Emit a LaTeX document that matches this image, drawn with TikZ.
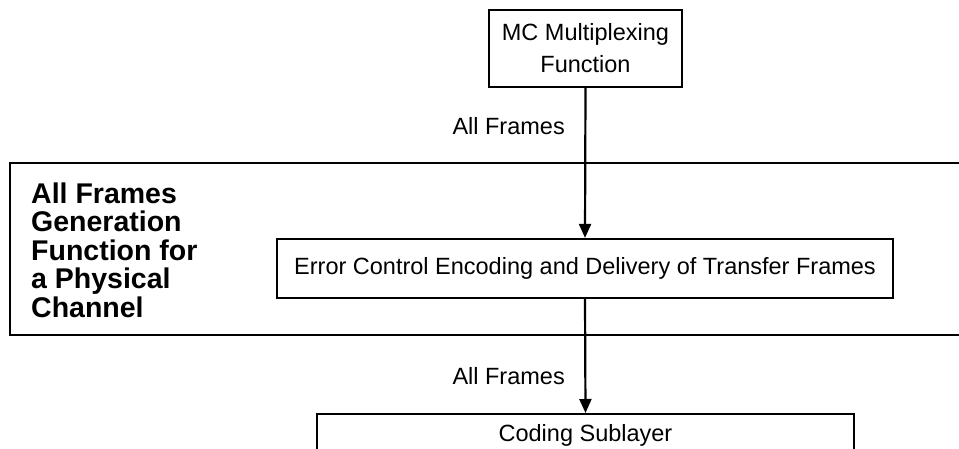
\documentclass[tikz,border=0pt]{standalone}
\usepackage{fontspec}
\setmainfont{Liberation Sans}
\usetikzlibrary{arrows.meta}
\tikzset{
  box/.style={draw=black, line width=2.2pt, fill=white, inner sep=0pt, align=center, font=\fontsize{23.5}{32}\selectfont},
  frame/.style={draw=black, line width=2.2pt, line join=miter},
  flow/.style={draw=black, line width=2.2pt, -{Triangle[length=14pt,width=12pt]}},
  lab/.style={inner sep=0pt, font=\fontsize{23.5}{28}\selectfont},
  head/.style={inner sep=0pt, align=left, font=\fontsize{28.5}{28.5}\selectfont\bfseries},
}

\begin{document}
\begin{tikzpicture}[x=1pt,y=-1pt]
  \useasboundingbox (0,0) rectangle (959,449);
  % outer frame, open to the right
  \draw[frame] (962,163) -- (10,163) -- (10,335) -- (962,335);
  \node[head, anchor=base west] (gen) at (31,317)
    {All Frames\\Generation\\Function for\\a Physical\\Channel};
  \node[box, minimum width=193, minimum height=77] (mc) at (585.5,48.5)
    {MC Multiplexing\\Function};
  \node[box, minimum width=616, minimum height=59] (err) at (585,268.5)
    {Error Control Encoding and Delivery of Transfer Frames};
  \node[box, minimum width=537, minimum height=42, anchor=north] (cod) at (585.5,413)
    {Coding Sublayer};
  \coordinate (cod top) at (cod.north);
  \draw[flow] (mc.south) -- (err.north);
  \draw[flow] (err.south) -- (cod top);
  \node[lab, anchor=base east] (all1) at (565,135) {All Frames};
  \node[lab, anchor=base east] (all2) at (565,384) {All Frames};
\end{tikzpicture}
\end{document}
